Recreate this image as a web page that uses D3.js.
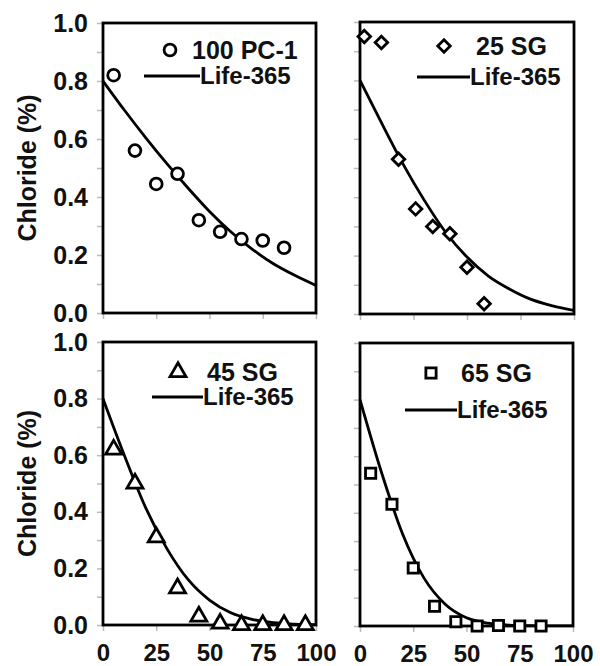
<!DOCTYPE html>
<html><head><meta charset="utf-8">
<script src="https://cdn.jsdelivr.net/npm/d3@7"></script>
<style>
html,body{margin:0;padding:0;background:#fff;}
svg text{font-family:"Liberation Sans",Arial,sans-serif;font-weight:bold;fill:#111;}
</style></head>
<body>
<svg id="chart" width="600" height="666"></svg>
<script>
// ---- data ----
const xTicks = [0, 25, 50, 75, 100];
const yTicks = [0, 0.2, 0.4, 0.6, 0.8, 1.0];
const yMinorTicks = [0,0.1,0.2,0.3,0.4,0.5,0.6,0.7,0.8,0.9,1.0];

const lifeX = [0, 10, 20, 30, 40, 50, 60, 70, 80, 90, 100];

const pc1Name = "100 PC-1";
const pc1X = [5, 15, 25, 35, 45, 55, 65, 75, 85];
const pc1Y = [0.82, 0.56, 0.445, 0.48, 0.32, 0.28, 0.255, 0.25, 0.225];
const pc1Life = [0.80, 0.70, 0.605, 0.515, 0.43, 0.35, 0.28, 0.22, 0.17, 0.13, 0.095];

const sg25Name = "25 SG";
const sg25X = [2, 10, 18, 26, 34, 42, 50, 58];
const sg25Y = [0.95, 0.93, 0.53, 0.36, 0.30, 0.275, 0.16, 0.035];
const sg25Life = [0.80, 0.655, 0.515, 0.39, 0.28, 0.195, 0.13, 0.085, 0.05, 0.028, 0.012];

const sg45Name = "45 SG";
const sg45X = [5, 15, 25, 35, 45, 55, 65, 75, 85, 95];
const sg45Y = [0.62, 0.50, 0.31, 0.13, 0.03, 0.005, 0, 0, 0, 0];
const sg45Life = [0.80, 0.60, 0.415, 0.27, 0.16, 0.088, 0.043, 0.02, 0.008, 0.003, 0.001];

const sg65Name = "65 SG";
const sg65X = [5, 15, 25, 35, 45, 55, 65, 75, 85];
const sg65Y = [0.54, 0.43, 0.205, 0.07, 0.015, 0, 0.002, 0, 0];
const sg65Life = [0.80, 0.545, 0.325, 0.17, 0.077, 0.029, 0.01, 0.003, 0.001, 0, 0];

const lineName = "Life-365";
const yLabel = "Chloride (%)";

// ---- layout ----
const panels = [
  {name: pc1Name, xs: pc1X, ys: pc1Y, life: pc1Life, sym: "circle",
   x0: 103, x1: 316, y0: 23, y1: 313, yLab: true, xLab: false,
   leg: {mx: 170, my: 50, tx: 192, lx0: 144, lx1: 200, ly: 76}},
  {name: sg25Name, xs: sg25X, ys: sg25Y, life: sg25Life, sym: "diamond",
   x0: 360, x1: 574, y0: 22, y1: 314, yLab: false, xLab: false,
   leg: {mx: 444, my: 46, tx: 476, lx0: 417, lx1: 470, ly: 77}},
  {name: sg45Name, xs: sg45X, ys: sg45Y, life: sg45Life, sym: "triangle",
   x0: 103, x1: 316, y0: 342, y1: 625, yLab: true, xLab: true,
   leg: {mx: 178, my: 372, tx: 207, lx0: 152, lx1: 203, ly: 397}},
  {name: sg65Name, xs: sg65X, ys: sg65Y, life: sg65Life, sym: "square",
   x0: 360, x1: 573, y0: 343, y1: 626, yLab: false, xLab: true,
   leg: {mx: 431, my: 373, tx: 461, lx0: 405, lx1: 457, ly: 410}}
];

const svg = d3.select("#chart");
const SW = 2.8;

function symbolPath(kind) {
  if (kind === "circle") return d3.symbol(d3.symbolCircle, 110)();
  if (kind === "diamond") return d3.symbol(d3.symbolSquare, 78)();
  if (kind === "triangle") return d3.symbol(d3.symbolTriangle, 110)();
  return d3.symbol(d3.symbolSquare, 105)();
}
function symTransform(kind, x, y) {
  return `translate(${x},${y})` + (kind === "diamond" ? " rotate(45)" : "");
}

panels.forEach((p, i) => {
  const x = d3.scaleLinear().domain([0, 100]).range([p.x0, p.x1]);
  const y = d3.scaleLinear().domain([0, 1]).range([p.y1, p.y0]);
  const g = svg.append("g");

  // minor gray ticks
  g.append("g").attr("transform", `translate(${p.x0},0)`)
    .call(d3.axisLeft(y).tickValues(yMinorTicks).tickSize(6).tickFormat(""))
    .call(a => a.select(".domain").remove())
    .call(a => a.selectAll("line").attr("stroke", "#bbb").attr("stroke-width", 1.5));
  g.append("g").attr("transform", `translate(0,${p.y1})`)
    .call(d3.axisBottom(x).tickValues(xTicks).tickSize(6).tickFormat(""))
    .call(a => a.select(".domain").remove())
    .call(a => a.selectAll("line").attr("stroke", "#bbb").attr("stroke-width", 1.5));

  if (p.yLab) {
    const ya = g.append("g").attr("transform", `translate(${p.x0},0)`)
      .call(d3.axisLeft(y).tickValues(yTicks).tickSize(0).tickPadding(15).tickFormat(d3.format(".1f")));
    ya.select(".domain").remove();
    ya.selectAll("text").attr("font-size", 25).style("font-family", '"Liberation Sans",Arial,sans-serif').attr("font-weight", "bold").attr("fill", "#111");
    g.append("text")
      .attr("transform", `translate(27,${(p.y0 + p.y1) / 2}) rotate(-90)`)
      .attr("text-anchor", "middle").attr("dy", "0.35em")
      .attr("font-size", 25).text(yLabel);
  }
  if (p.xLab) {
    const xa = g.append("g").attr("transform", `translate(0,${p.y1})`)
      .call(d3.axisBottom(x).tickValues(xTicks).tickSize(0).tickPadding(19).tickFormat(d3.format("d")));
    xa.select(".domain").remove();
    xa.selectAll("text").attr("font-size", 24).style("font-family", '"Liberation Sans",Arial,sans-serif').attr("font-weight", "bold").attr("fill", "#111");
  }

  // clip
  const cid = "clip" + i;
  svg.append("clipPath").attr("id", cid).append("rect")
    .attr("x", p.x0).attr("y", p.y0).attr("width", p.x1 - p.x0).attr("height", p.y1 - p.y0);

  // Life-365 line
  const line = d3.line().x((d, j) => x(lifeX[j])).y(d => y(d)).curve(d3.curveMonotoneX);
  g.append("path").datum(p.life).attr("d", line)
    .attr("fill", "none").attr("stroke", "#000").attr("stroke-width", SW)
    .attr("clip-path", `url(#${cid})`);

  // frame
  g.append("rect").attr("x", p.x0).attr("y", p.y0)
    .attr("width", p.x1 - p.x0).attr("height", p.y1 - p.y0)
    .attr("fill", "none").attr("stroke", "#000").attr("stroke-width", SW);

  // markers
  g.selectAll("path.pt").data(p.ys).enter().append("path").attr("class", "pt")
    .attr("d", symbolPath(p.sym))
    .attr("transform", (d, j) => symTransform(p.sym, x(p.xs[j]), y(d)))
    .attr("fill", "#fff").attr("stroke", "#000").attr("stroke-width", SW);

  // legend
  const L = p.leg;
  g.append("path").attr("d", symbolPath(p.sym))
    .attr("transform", symTransform(p.sym, L.mx, L.my))
    .attr("fill", "#fff").attr("stroke", "#000").attr("stroke-width", SW);
  g.append("text").attr("x", L.tx).attr("y", L.my).attr("dy", "0.35em")
    .attr("font-size", 25).text(p.name);
  g.append("line").attr("x1", L.lx0).attr("x2", L.lx1).attr("y1", L.ly).attr("y2", L.ly)
    .attr("stroke", "#000").attr("stroke-width", SW);
  g.append("text").attr("x", L.lx1).attr("y", L.ly).attr("dy", "0.35em")
    .attr("font-size", 24).text(lineName);
});
</script>
</body></html>
